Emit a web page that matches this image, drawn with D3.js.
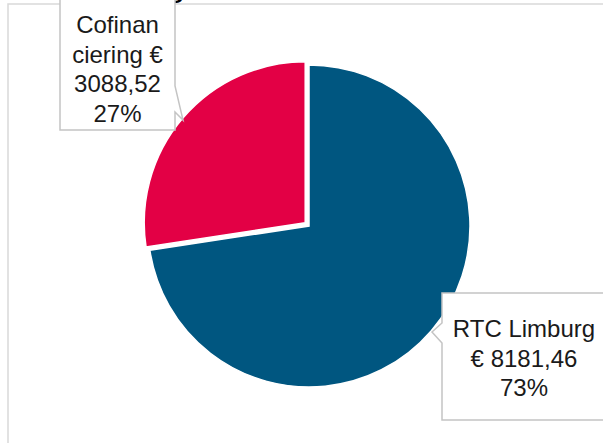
<!DOCTYPE html>
<html>
<head>
<meta charset="utf-8">
<script src="https://cdn.jsdelivr.net/npm/d3@7"></script>
<style>
  body { margin: 0; background: #fff; }
  svg { display: block; font-family: "Liberation Sans", Arial, sans-serif; }
</style>
</head>
<body>
<svg width="603" height="443"></svg>
<script>
/* globals d3 */

// data
var categories = ["RTC Limburg", "Cofinanciering"];
var amounts = [8181.46, 3088.52];
var colors = ["#005680", "#e30045"];
// how the labels wrap inside their boxes
var labelLines = [
  ["RTC Limburg", "€ 8181,46", "73%"],
  ["Cofinan", "ciering €", "3088,52", "27%"]
];

var svg = d3.select("svg"),
  cx = 309, cy = 226, radius = 161,
  explode = [0, 5];

// chart frame (only top and left edges are in view)
svg.append("path")
  .attr("d", "M8,443V4H603")
  .attr("fill", "none")
  .attr("stroke", "#d9d9d9")
  .attr("stroke-width", 1.5);

// title, almost entirely above the visible area
svg.append("text")
  .attr("x", 184)
  .attr("y", -2)
  .attr("text-anchor", "end")
  .attr("font-weight", "bold")
  .attr("font-size", 24)
  .text("Financiering");

var pie = d3.pie().sort(null).value(function(d) { return d; });
var arc = d3.arc().innerRadius(0).outerRadius(radius);
var slices = pie(amounts);

var g = svg.append("g").attr("transform", "translate(" + cx + "," + cy + ")");

g.selectAll(".slice")
  .data(slices)
  .enter().append("path")
  .attr("class", "slice")
  .attr("d", arc)
  .attr("fill", function(d, i) { return colors[i]; })
  .attr("stroke", "#fff")
  .attr("stroke-width", 1.5)
  .attr("transform", function(d, i) {
    var a = (d.startAngle + d.endAngle) / 2;
    return "translate(" + (explode[i] * Math.sin(a)) + "," + (-explode[i] * Math.cos(a)) + ")";
  });

// callout boxes: [left, top, right, bottom], pointer side and tip
var boxes = [
  { x0: 442, y0: 293, x1: 610, y1: 420, side: "left", p0: 323, p1: 343, tip: [432, 332], tx: 524, ty: 337 },
  { x0: 60, y0: -5, x1: 175, y1: 130, side: "right", p0: 86, p1: 112, tip: [183, 120], tx: 117.5, ty: 33 }
];

function calloutPath(b) {
  if (b.side === "left") {
    return "M" + b.x0 + "," + b.y0 + "H" + b.x1 + "V" + b.y1 + "H" + b.x0 +
      "V" + b.p1 + "L" + b.tip[0] + "," + b.tip[1] + "L" + b.x0 + "," + b.p0 + "Z";
  }
  return "M" + b.x0 + "," + b.y0 + "H" + b.x1 + "V" + b.p0 +
    "L" + b.tip[0] + "," + b.tip[1] + "L" + b.x1 + "," + b.p1 +
    "V" + b.y1 + "H" + b.x0 + "Z";
}

var labels = svg.selectAll(".callout")
  .data(categories)
  .enter().append("g")
  .attr("class", "callout");

labels.append("path")
  .attr("d", function(d, i) { return calloutPath(boxes[i]); })
  .attr("fill", "#fff")
  .attr("stroke", "#c4c4c4")
  .attr("stroke-width", 1.5);

labels.append("text")
  .attr("text-anchor", "middle")
  .attr("font-size", 24)
  .attr("fill", "#1a1a1a")
  .each(function(d, i) {
    var b = boxes[i];
    d3.select(this).selectAll("tspan")
      .data(labelLines[i])
      .enter().append("tspan")
      .attr("x", b.tx)
      .attr("y", function(t, j) { return b.ty + j * 29.5; })
      .text(function(t) { return t; });
  });
</script>
</body>
</html>
